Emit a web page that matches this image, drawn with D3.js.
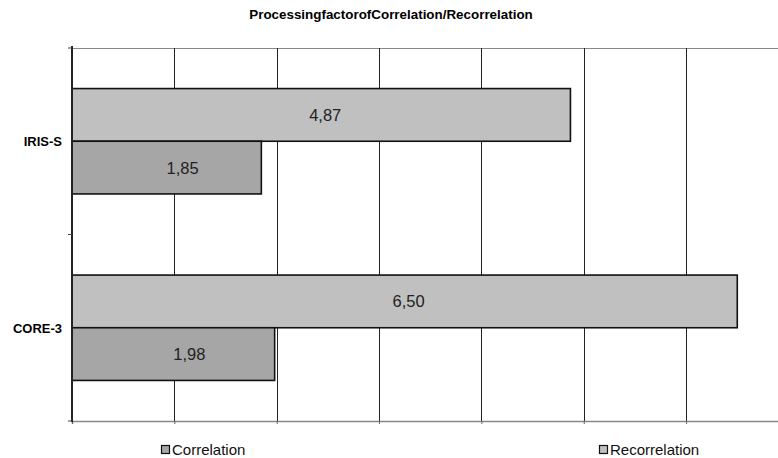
<!DOCTYPE html>
<html>
<head>
<meta charset="utf-8">
<script src="https://cdn.jsdelivr.net/npm/d3@7"></script>
<style>
  html, body { margin: 0; padding: 0; background: #fff; }
  svg { display: block; font-family: "Liberation Sans", Arial, sans-serif; }
</style>
</head>
<body>
<svg id="chart" width="778" height="458"></svg>
<script>
// Processing factors per dataset
const categories = ["IRIS-S", "CORE-3"];
const seriesNames = ["Recorrelation", "Correlation"];
const recorrelation = [4.87, 6.50];
const correlation = [1.85, 1.98];
const xTicks = [0, 1, 2, 3, 4, 5, 6, 7];
const legendOrder = ["Correlation", "Recorrelation"];
const titleText = "ProcessingfactorofCorrelation/Recorrelation";

const colors = { Recorrelation: "#c0c0c0", Correlation: "#a6a6a6" };
const labelShift = { Recorrelation: 4, Correlation: 16 };
const seriesValues = { Recorrelation: recorrelation, Correlation: correlation };

const svg = d3.select("#chart");
const W = 778, H = 458;
const plotLeft = 72, plotTop = 48, plotBottom = 421;

const x = d3.scaleLinear().domain([0, 7]).range([plotLeft, plotLeft + 7 * 102.35]);
const y = d3.scaleBand().domain(categories).range([plotTop, plotBottom]).padding(0);
const ySub = d3.scaleBand().domain(seriesNames).range([0, y.bandwidth()])
  .paddingInner(0).paddingOuter(0.77);

// Title
svg.append("text")
  .attr("x", 391).attr("y", 19)
  .attr("text-anchor", "middle")
  .attr("font-size", 13.4).attr("font-weight", "bold")
  .text(titleText);

// Plot-area top border
svg.append("line")
  .attr("x1", plotLeft).attr("x2", W).attr("y1", plotTop + 0.5).attr("y2", plotTop + 0.5)
  .attr("stroke", "#888").attr("stroke-width", 1.2);

// Vertical gridlines
svg.append("g")
  .selectAll("line")
  .data(xTicks.filter(d => d > 0))
  .join("line")
  .attr("x1", d => Math.round(x(d)) + 0.5).attr("x2", d => Math.round(x(d)) + 0.5)
  .attr("y1", plotTop).attr("y2", plotBottom)
  .attr("stroke", "#222").attr("stroke-width", 1);

// Bottom axis with outward ticks
const xAxis = svg.append("g")
  .attr("transform", `translate(0,${plotBottom})`)
  .call(d3.axisBottom(x).tickValues(xTicks).tickSize(3).tickFormat(""));
xAxis.select(".domain").attr("stroke", "#888").attr("stroke-width", 1.5);
xAxis.selectAll(".tick line").attr("stroke", "#666");

// Bars
const groups = svg.append("g")
  .selectAll("g")
  .data(categories)
  .join("g")
  .attr("transform", d => `translate(0,${y(d)})`);

groups.selectAll("rect")
  .data((c, i) => seriesNames.map(s => ({ s, v: seriesValues[s][i] })))
  .join("rect")
  .attr("x", x(0))
  .attr("y", d => ySub(d.s))
  .attr("width", d => x(d.v) - x(0))
  .attr("height", ySub.bandwidth())
  .attr("fill", d => colors[d.s])
  .attr("stroke", "#111").attr("stroke-width", 1.6);

groups.selectAll("text")
  .data((c, i) => seriesNames.map(s => ({ s, v: seriesValues[s][i] })))
  .join("text")
  .attr("x", d => (x(0) + x(d.v)) / 2 + labelShift[d.s])
  .attr("y", d => ySub(d.s) + ySub.bandwidth() / 2 + 6)
  .attr("text-anchor", "middle")
  .attr("font-size", 16.5).attr("fill", "#222")
  .text(d => d3.format(".2f")(d.v).replace(".", ","));

// Left axis with category ticks at band edges
const yAxisG = svg.append("g").attr("transform", `translate(${plotLeft},0)`);
yAxisG.append("line")
  .attr("x1", 0).attr("x2", 0).attr("y1", plotTop - 2).attr("y2", plotBottom + 1)
  .attr("stroke", "#222").attr("stroke-width", 2);
yAxisG.selectAll("line.tk")
  .data([plotTop, plotTop + y.bandwidth(), plotBottom])
  .join("line").attr("class", "tk")
  .attr("x1", -4).attr("x2", 0).attr("y1", d => d).attr("y2", d => d)
  .attr("stroke", "#444").attr("stroke-width", 1);

svg.append("g")
  .selectAll("text")
  .data(categories)
  .join("text")
  .attr("x", 62)
  .attr("y", d => y(d) + y.bandwidth() / 2 + 5)
  .attr("text-anchor", "end")
  .attr("font-size", 13).attr("font-weight", "bold")
  .text(d => d);

// Legend
const legendX = { Correlation: 161, Recorrelation: 599 };
const lg = svg.append("g")
  .selectAll("g")
  .data(legendOrder)
  .join("g")
  .attr("transform", d => `translate(${legendX[d]},445)`);
lg.append("rect")
  .attr("x", 0.5).attr("y", 0.5).attr("width", 8).attr("height", 8)
  .attr("fill", d => colors[d]).attr("stroke", "#111").attr("stroke-width", 1.2);
lg.append("text")
  .attr("x", 11).attr("y", 9.5)
  .attr("font-size", 15).attr("fill", "#111")
  .text(d => d);
</script>
</body>
</html>
